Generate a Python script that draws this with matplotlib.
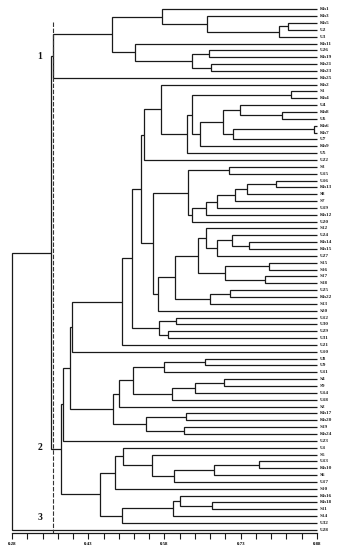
import matplotlib
matplotlib.use("Agg")
import matplotlib.pyplot as plt

# ---------------- data ----------------
leaf_labels = ["Kh1", "Kh3", "Kh5", "U2", "U3", "Kh11", "U26", "Kh19", "Kh21", "Kh23",
               "Kh25", "Kh2", "S1", "Kh4", "U4", "Kh8", "U6", "Kh6", "Kh7", "U7",
               "Kh9", "U5", "U22", "S3", "U15", "U16", "Kh13", "S8", "S7", "U19",
               "Kh12", "U20", "S12", "U24", "Kh14", "Kh15", "U27", "S15", "S16", "S17",
               "S18", "U25", "Kh22", "S13", "S20", "U12", "U30", "U29", "U31", "U21",
               "U10", "U8", "U9", "U11", "S4", "S9", "U14", "U18", "S2", "Kh17",
               "Kh20", "S19", "Kh24", "U23", "U1", "S5", "U13", "Kh10", "S6", "U17",
               "S10", "Kh16", "Kh18", "S11", "S14", "U32", "U28"]

tick_values = [0.28, 0.31, 0.34, 0.37, 0.40, 0.43, 0.46, 0.49, 0.52, 0.55, 0.58,
               0.61, 0.64, 0.67, 0.70, 0.73, 0.76, 0.79, 0.82, 0.85, 0.88]
tick_labels = ["0.28", "", "", "", "", "0.43", "", "", "", "", "0.58",
               "", "", "", "", "0.73", "", "", "", "", "0.88"]

leaf_similarity = 0.88
cut_value = 0.361
cluster_names = ["1", "2", "3"]
cluster_anchor_leaf = [6.9, 64.0, 74.2]

# tree: [similarity, left, right]
clus_a = [0.575, "Kh1", [0.663, "Kh3", [0.806, [0.823, "Kh5", "U2"], "U3"]]]
clus_b = [0.522, "Kh11", [0.635, [0.668, "U26", "Kh19"], [0.672, "Kh21", "Kh23"]]]
cluster1 = [0.361, [0.476, clus_a, clus_b], "Kh25"]

grp_x = [0.650, [0.695, [0.729, "U4", [0.811, "Kh8", "U6"]],
                 [0.714, [0.875, "Kh6", "Kh7"], "U7"]], "Kh9"]
n192 = [0.635, [0.829, "S1", "Kh4"], grp_x]
n186 = [0.624, n192, "U5"]
n160 = [0.573, "Kh2", n186]
n144 = [0.540, n160, "U22"]

grp2 = [0.626, [0.707, "S3", "U15"],
        [0.635, [0.661, [0.683, [0.718, [0.742, [0.800, "U16", "Kh13"], "S8"], "S7"], "U19"], "Kh12"], "U20"]]
grp3 = [0.661, "S12", [0.683, [0.7125, "U24", [0.7465, "Kh14", "Kh15"]], "U27"]]
grp4 = [0.700, [0.786, "S15", "S16"], [0.777, "S17", "S18"]]
grp5 = [0.670, [0.708, "U25", "Kh22"], "S13"]
grp_low = [0.568, [0.601, [0.646, grp3, grp4], grp5], "S20"]
n153 = [0.558, grp2, grp_low]
n140 = [0.533, n144, n153]
n159 = [0.569, [0.603, "U12", "U30"], [0.587, "U29", "U31"]]
n132 = [0.517, n140, n159]
n121 = [0.496, n132, "U21"]
node_a = [0.399, n121, "U10"]

node_c = [0.479,
          [0.491, [0.519, [0.579, [0.660, "U8", "U9"], "U11"],
                   [0.594, [0.640, [0.698, "S4", "S9"], "U14"], "U18"]], "S2"],
          [0.543, [0.622, "Kh17", "Kh20"], [0.619, "S19", "Kh24"]]]
node_b = [0.394, node_a, node_c]
node_d = [0.380, node_b, "U23"]

lower = [0.453,
         [0.483, [0.498, "U1", [0.555, "S5", [0.5995, [0.678, [0.765, "U13", "Kh10"], "S6"], "U17"]]], "S10"],
         [0.496, [0.596, [0.611, "Kh16", [0.674, "Kh18", "S11"]], "S14"], "U32"]]
cluster2 = [0.377, node_d, lower]
root = [0.28, [0.356, cluster1, cluster2], "U28"]

# ---------------- drawing ----------------
W, H = 338, 550
fig = plt.figure(figsize=(W / 100, H / 100), dpi=100)
px_top, px_bottom = 4.0, 533.3
leaf_px0, leaf_dpx = 9.3, 6.85
ax = fig.add_axes([12 / W, (H - px_bottom) / H, 305 / W, (px_bottom - px_top) / H])
ax.set_xlim(0.28, 0.88)
ax.set_ylim((px_bottom - leaf_px0) / leaf_dpx, (px_top - leaf_px0) / leaf_dpx)

pos = {name: i for i, name in enumerate(leaf_labels)}
LC = "#1a1a1a"
LW = 0.9


def draw(node):
    if isinstance(node, str):
        return leaf_similarity, pos[node]
    h, left, right = node
    xl, yl = draw(left)
    xr, yr = draw(right)
    ax.plot([xl, h, h, xr], [yl, yl, yr, yr], color=LC, lw=LW,
            solid_capstyle="butt", solid_joinstyle="miter", clip_on=False)
    return h, (yl + yr) / 2


draw(root)

for name, i in pos.items():
    ax.text(leaf_similarity + 0.005, i, name, fontsize=3.8, family="Liberation Serif",
            fontweight="bold", va="center", ha="left", color="#222222", clip_on=False)

ax.plot([cut_value, cut_value], [1.85, ax.get_ylim()[0]], color="#333333", lw=0.8,
        ls=(0, (4, 1.5)), clip_on=False)

for nm, yy in zip(cluster_names, cluster_anchor_leaf):
    ax.text(0.335, yy, nm, fontsize=7, family="Liberation Serif", fontweight="bold",
            ha="center", va="center", color="#111111")

for s in ["top", "left", "right"]:
    ax.spines[s].set_visible(False)
ax.spines["bottom"].set_linewidth(0.9)
ax.spines["bottom"].set_color(LC)
ax.set_yticks([])
ax.set_xticks(tick_values)
ax.set_xticklabels(tick_labels, fontsize=3.5, family="Liberation Serif", fontweight="bold")
ax.tick_params(axis="x", length=4, width=0.8, pad=2.5, color=LC)

fig.savefig("out.png", dpi=100)
